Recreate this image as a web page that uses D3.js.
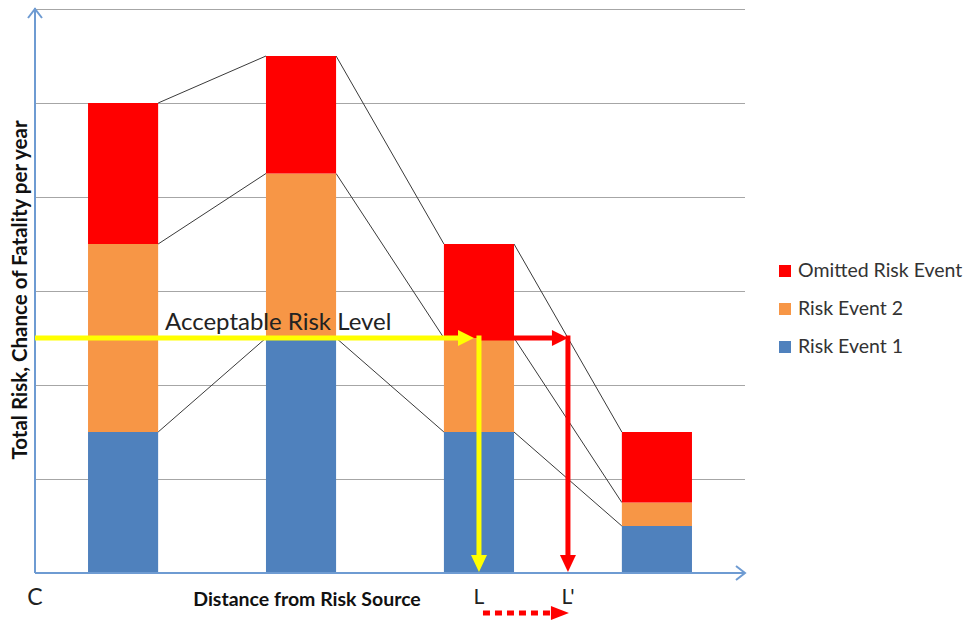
<!DOCTYPE html>
<html><head><meta charset="utf-8">
<script src="https://cdn.jsdelivr.net/npm/d3@7"></script>
<style>body{margin:0;background:#fff}svg{display:block}</style>
</head><body>
<svg id="c" width="966" height="622"></svg>
<script>
const categories = ["A", "B", "C3", "D"];
const riskEvent1 = [1.5, 2.5, 1.5, 0.5];
const riskEvent2 = [2.0, 1.75, 1.0, 0.25];
const omittedRisk = [1.5, 1.25, 1.0, 0.75];
const seriesNames = ["Risk Event 1", "Risk Event 2", "Omitted Risk Event"];
const seriesColors = ["#4f81bd", "#f79646", "#ff0000"];
const gridTicks = [1, 2, 3, 4, 5, 6];
const acceptableLevel = 2.5;

const svg = d3.select("#c");
const pL = 35, pR = 745, pT = 9, pB = 573;
const font = "Lato, 'Open Sans', sans-serif";

const x = d3.scaleBand().domain(categories).range([pL, pR]).paddingInner(0.606).paddingOuter(0.298);
const y = d3.scaleLinear().domain([0, 6]).range([pB, pT]);

// gridlines
svg.append("g").attr("transform", `translate(${pL},0)`)
  .call(d3.axisLeft(y).tickValues(gridTicks).tickFormat("").tickSize(-(pR - pL)))
  .call(g => g.select(".domain").remove())
  .call(g => g.selectAll("line").attr("stroke", "#a6a6a6").attr("stroke-width", 1.2));

const table = categories.map((c, i) => ({cat: c, "Risk Event 1": riskEvent1[i], "Risk Event 2": riskEvent2[i], "Omitted Risk Event": omittedRisk[i]}));
const stacked = d3.stack().keys(seriesNames)(table);

// connecting lines
const conn = svg.append("g").attr("stroke", "#3a3a3a").attr("stroke-width", 1).attr("fill", "none");
stacked.forEach(s => {
  for (let i = 0; i < s.length - 1; i++) {
    conn.append("line")
      .attr("x1", x(categories[i]) + x.bandwidth()).attr("y1", y(s[i][1]))
      .attr("x2", x(categories[i + 1])).attr("y2", y(s[i + 1][1]));
  }
});

// bars
svg.append("g").selectAll("g").data(stacked).join("g")
  .attr("fill", (d, i) => seriesColors[i])
  .selectAll("rect").data(d => d).join("rect")
  .attr("x", d => x(d.data.cat)).attr("width", x.bandwidth())
  .attr("y", d => y(d[1])).attr("height", d => y(d[0]) - y(d[1]));

// axes
const axisColor = "#6e9bd2";
const ax = svg.append("g").attr("stroke", axisColor).attr("stroke-width", 2).attr("fill", "none");
ax.append("line").attr("x1", pL).attr("y1", pB).attr("x2", pL).attr("y2", pT - 1);
ax.append("path").attr("d", `M${pL - 7},${pT + 9} L${pL},${pT} L${pL + 7},${pT + 9}`);
ax.append("line").attr("x1", pL).attr("y1", pB).attr("x2", pR).attr("y2", pB);
ax.append("path").attr("d", `M${pR - 9},${pB - 7} L${pR},${pB} L${pR - 9},${pB + 7}`);

// acceptable risk arrows
const yA = y(acceptableLevel);
const xL = x(categories[2]) + x.bandwidth() / 2;
const xLp = (x(categories[2]) + x.bandwidth() + x(categories[3])) / 2;
const yellow = "#ffff00", red = "#ff0000";
function arrowH(g, x1, x2, yy, col) {
  g.append("line").attr("x1", x1).attr("y1", yy).attr("x2", x2 - 14).attr("y2", yy).attr("stroke", col).attr("stroke-width", 5);
  g.append("path").attr("d", `M${x2 - 16},${yy - 8} L${x2},${yy} L${x2 - 16},${yy + 8}Z`).attr("fill", col);
}
function arrowV(g, xx, y1, y2, col) {
  g.append("line").attr("x1", xx).attr("y1", y1).attr("x2", xx).attr("y2", y2 - 14).attr("stroke", col).attr("stroke-width", 5);
  g.append("path").attr("d", `M${xx - 8},${y2 - 17} L${xx},${y2} L${xx + 8},${y2 - 17}Z`).attr("fill", col);
}
const ar = svg.append("g");
arrowH(ar, xL, xLp, yA, red);
arrowV(ar, xLp, yA - 2.5, pB - 1, red);
arrowH(ar, pL, xL - 5, yA, yellow);
arrowV(ar, xL, yA - 2.5, pB - 1, yellow);

// dotted arrow under axis
const yD = 613;
ar.append("line").attr("x1", xL + 4).attr("y1", yD).attr("x2", xLp - 14).attr("y2", yD)
  .attr("stroke", red).attr("stroke-width", 5).attr("stroke-dasharray", "7,5");
ar.append("path").attr("d", `M${xLp - 17},${yD - 7} L${xLp + 1},${yD} L${xLp - 17},${yD + 7}Z`).attr("fill", red);

// texts
svg.append("text").attr("x", 165).attr("y", 330).attr("font-family", font).attr("font-size", 24).attr("fill", "#222").text("Acceptable Risk Level");
svg.append("text").attr("x", pL).attr("y", 605).attr("text-anchor", "middle").attr("font-family", font).attr("font-size", 23).attr("fill", "#222").text("C");
svg.append("text").attr("x", xL).attr("y", 604).attr("text-anchor", "middle").attr("font-family", font).attr("font-size", 21).attr("fill", "#222").text("L");
svg.append("text").attr("x", xLp).attr("y", 604).attr("text-anchor", "middle").attr("font-family", font).attr("font-size", 21).attr("fill", "#222").text("L'");
svg.append("text").attr("x", 307).attr("y", 606).attr("text-anchor", "middle").attr("font-family", font).attr("font-weight", "bold").attr("font-size", 19.5).attr("fill", "#111").text("Distance from Risk Source");
svg.append("text").attr("transform", "translate(27,290) rotate(-90)").attr("text-anchor", "middle").attr("font-family", font).attr("font-weight", "bold").attr("font-size", 20.5).attr("fill", "#111").text("Total Risk, Chance of Fatality per year");

// legend
const legendOrder = [2, 1, 0];
const lg = svg.append("g").selectAll("g").data(legendOrder).join("g")
  .attr("transform", (d, i) => `translate(779,${265 + i * 38})`);
lg.append("rect").attr("width", 12).attr("height", 12).attr("fill", d => seriesColors[d]);
lg.append("text").attr("x", 19).attr("y", 11.5).attr("font-family", font).attr("font-size", 19.5).attr("fill", "#333").text(d => seriesNames[d]);
</script>
</body></html>
